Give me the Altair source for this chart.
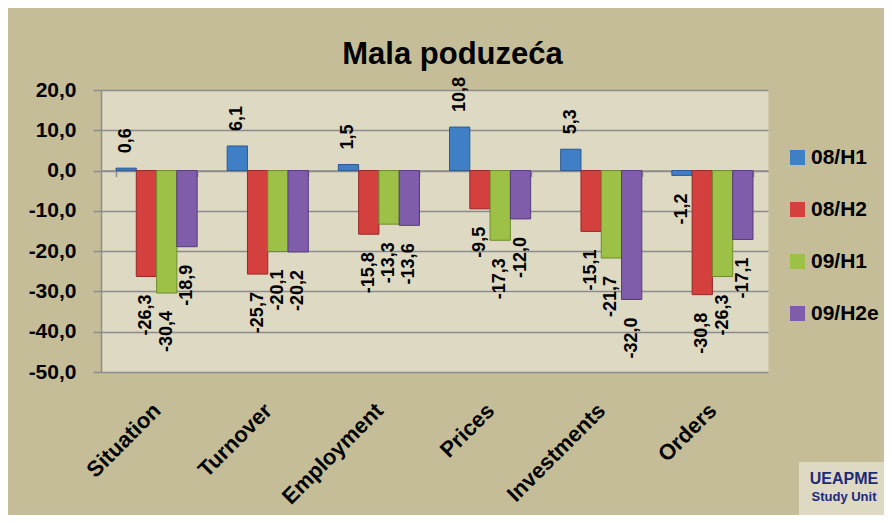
import altair as alt
import pandas as pd

categories = ["Situation", "Turnover", "Employment", "Prices", "Investments", "Orders"]
series = ["08/H1", "08/H2", "09/H1", "09/H2e"]
v_08h1 = [0.6, 6.1, 1.5, 10.8, 5.3, -1.2]
v_08h2 = [-26.3, -25.7, -15.8, -9.5, -15.1, -30.8]
v_09h1 = [-30.4, -20.1, -13.3, -17.3, -21.7, -26.3]
v_09h2e = [-18.9, -20.2, -13.6, -12.0, -32.0, -17.1]
y_ticks = [20, 10, 0, -10, -20, -30, -40, -50]
colors = ["#3f7fc6", "#d3403e", "#9dc146", "#7f5dab"]
edges = ["#2a5a92", "#98282a", "#6e8c2c", "#563c7c"]

rows = []
for s, vals in zip(series, [v_08h1, v_08h2, v_09h1, v_09h2e]):
    for c, v in zip(categories, vals):
        rows.append({"category": c, "series": s, "value": v})
df = pd.DataFrame(rows)

FONT = "Liberation Sans"
GRID = "#8c8c8c"
label_expr = "(datum.value < 0 ? '-' : '') + replace(format(abs(datum.value), '.1f'), '.', ',')"

x_enc = alt.X(
    "category:N", sort=categories,
    scale=alt.Scale(paddingInner=0.27, paddingOuter=0.135),
    axis=alt.Axis(
        title=None, orient="bottom", offset=-201.43,
        domainColor=GRID, domainWidth=1.5, tickColor=GRID, tickWidth=1.5,
        tickSize=6, tickBand="extent",
        labelAngle=-45, labelAlign="right", labelBaseline="top",
        labelPadding=223, labelOffset=-7, labelFontSize=22, labelFont=FONT,
        labelFontWeight="bold", labelColor="black",
    ),
)
xo_enc = alt.XOffset("series:N", sort=series, scale=alt.Scale(paddingInner=0, paddingOuter=0))
y_enc = alt.Y(
    "value:Q",
    scale=alt.Scale(domain=[-50, 20], nice=False),
    axis=alt.Axis(
        title=None, values=y_ticks, labelExpr=label_expr,
        grid=True, gridColor=GRID, gridWidth=1.5,
        domainColor=GRID, domainWidth=1.5, tickColor=GRID, tickWidth=1.5, tickSize=8,
        labelFontSize=21, labelFont=FONT, labelFontWeight="bold",
        labelColor="black", labelPadding=17,
    ),
)

base = alt.Chart(df)

bars = base.mark_bar(strokeWidth=1).encode(
    x=x_enc, xOffset=xo_enc, y=y_enc,
    color=alt.Color(
        "series:N", sort=series,
        scale=alt.Scale(domain=series, range=colors),
        legend=alt.Legend(
            title=None, orient="none", legendX=686, legendY=57,
            symbolType="square", symbolSize=225, symbolStrokeWidth=0,
            labelFontSize=21, labelFont=FONT, labelFontWeight="bold",
            labelColor="black", rowPadding=30, labelOffset=3, padding=0,
        ),
    ),
    stroke=alt.Stroke("series:N", sort=series,
                      scale=alt.Scale(domain=series, range=edges), legend=None),
)

lab = base.transform_calculate(label=label_expr)
pos_labels = lab.transform_filter("datum.value >= 0").mark_text(
    angle=270, align="left", baseline="middle", yOffset=-15,
    fontSize=18, font=FONT, fontWeight="bold", color="black",
).encode(x=alt.X("category:N", sort=categories), xOffset=alt.XOffset("series:N", sort=series),
         y="value:Q", text="label:N")
neg_labels = lab.transform_filter("datum.value < 0").mark_text(
    angle=270, align="right", baseline="middle", yOffset=18,
    fontSize=18, font=FONT, fontWeight="bold", color="black",
).encode(x=alt.X("category:N", sort=categories), xOffset=alt.XOffset("series:N", sort=series),
         y="value:Q", text="label:N")

logo_df = pd.DataFrame({"line1": ["UEAPME"], "line2": ["Study Unit"]})
logo_box = alt.Chart(logo_df).mark_rect(color="#DDD9C3").encode(
    x=alt.value(698), x2=alt.value(800), y=alt.value(372), y2=alt.value(440)
)
logo_t1 = alt.Chart(logo_df).mark_text(
    fontSize=16, font=FONT, fontWeight="bold", color="#1c2a78", align="center", baseline="middle"
).encode(x=alt.value(743), y=alt.value(389), text="line1:N")
logo_t2 = alt.Chart(logo_df).mark_text(
    fontSize=13, font=FONT, fontWeight="bold", color="#1c2a78", align="center", baseline="middle"
).encode(x=alt.value(743), y=alt.value(407), text="line2:N")

chart = alt.layer(bars, pos_labels, neg_labels, logo_box, logo_t1, logo_t2).properties(
    width=667, height=282,
    padding={"left": 93, "top": 82, "right": 116, "bottom": 143},
    autosize=alt.AutoSizeParams(type="none"),
    title=alt.TitleParams(
        "Mala  poduzeća", fontSize=31, font=FONT, fontWeight="bold",
        color="black", anchor="middle", frame="group", dx=18, offset=6,
    ),
    background="#C4BD97",
).configure_view(fill="#DDD9C3", stroke="transparent")

chart.save("out.html", embed_options={"renderer": "svg", "actions": False})
